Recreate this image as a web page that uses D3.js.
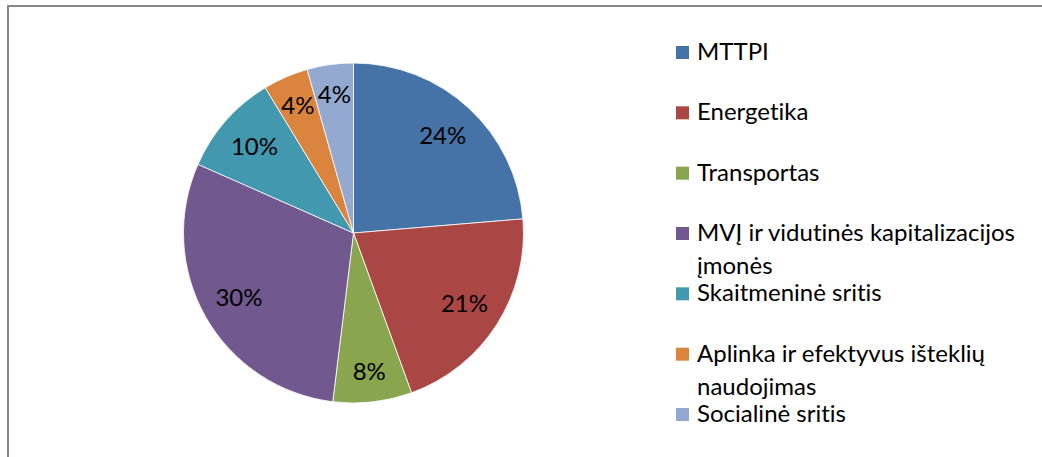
<!DOCTYPE html>
<meta charset="utf-8">
<style>
body { margin: 0; background: #fff; }
text { font-family: Lato, "Open Sans", sans-serif; fill: #000; font-variant-ligatures: none; }
</style>
<body>
<script src="https://d3js.org/d3.v7.min.js"></script>
<script>

// data
var categories = ["MTTPI", "Energetika", "Transportas",
  "MVĮ ir vidutinės kapitalizacijos įmonės", "Skaitmeninė sritis",
  "Aplinka ir efektyvus išteklių naudojimas", "Socialinė sritis"];
var shares = [23.7, 20.8, 7.5, 29.7, 9.7, 4.3, 4.4];
var pctLabels = ["24%", "21%", "8%", "30%", "10%", "4%", "4%"];
var colors = ["#4572A7", "#AA4643", "#89A54E", "#71588F", "#4198AF", "#DB843D", "#93A9CF"];

var width = 1042, height = 457;
var cx = 353.5, cy = 233, r = 170;
var fontSize = "24px";

var svg = d3.select("body").append("svg")
    .attr("width", width)
    .attr("height", height);

// chart frame (runs off the right and bottom)
svg.append("rect")
    .attr("x", 8).attr("y", 6)
    .attr("width", 1200).attr("height", 600)
    .attr("fill", "none")
    .attr("stroke", "#878787")
    .attr("stroke-width", 2);

var color = d3.scaleOrdinal().domain(categories).range(colors);

var pie = d3.pie().sort(null).value(function(d) { return d; });
var arcs = pie(shares);

var arc = d3.arc().innerRadius(0).outerRadius(r);

var g = svg.append("g")
    .attr("transform", "translate(" + cx + "," + cy + ")");

g.selectAll("path")
    .data(arcs)
  .enter().append("path")
    .attr("d", arc)
    .attr("fill", function(d, i) { return color(categories[i]); })
    .attr("stroke", "#fff")
    .attr("stroke-width", 0.8);

// labels sit a bit further out on thin slices
g.selectAll(".pct")
    .data(arcs)
  .enter().append("text")
    .attr("class", "pct")
    .attr("transform", function(d) {
      var f = (d.endAngle - d.startAngle) < 0.09 * 2 * Math.PI ? 0.82 : 0.775;
      var c = d3.arc().innerRadius(r * f).outerRadius(r * f).centroid(d);
      return "translate(" + c[0] + "," + c[1] + ")";
    })
    .attr("text-anchor", "middle")
    .attr("dy", "0.35em")
    .style("font-size", fontSize)
    .text(function(d, i) { return pctLabels[i]; });

// legend
var ly = d3.scaleLinear().domain([0, categories.length - 1]).range([60, 422]);
var maxW = 345;

var legend = svg.append("g");
categories.forEach(function(name, i) {
  var y = ly(i);
  legend.append("rect")
      .attr("x", 676).attr("y", y - 14)
      .attr("width", 13).attr("height", 13)
      .attr("fill", colors[i]);

  var t = legend.append("text")
      .attr("x", 697).attr("y", y)
      .style("font-size", fontSize);

  // simple word wrap
  var words = name.split(" "), line = [], lineNo = 0;
  var tspan = t.append("tspan").attr("x", 697).attr("y", y);
  words.forEach(function(w) {
    line.push(w);
    tspan.text(line.join(" "));
    if (tspan.node().getComputedTextLength() > maxW && line.length > 1) {
      line.pop();
      tspan.text(line.join(" "));
      line = [w];
      lineNo++;
      tspan = t.append("tspan").attr("x", 697).attr("y", y + lineNo * 33).text(w);
    }
  });
});

</script>
</body>
